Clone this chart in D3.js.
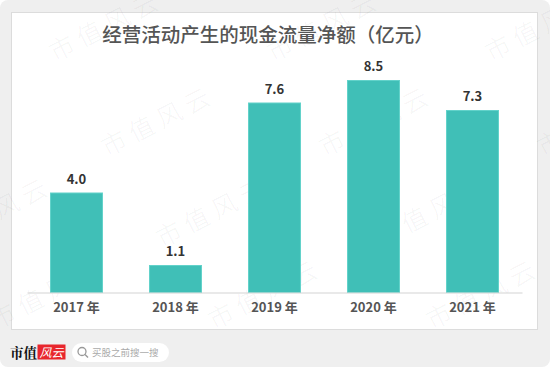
<!DOCTYPE html>
<html>
<head>
<meta charset="utf-8">
<script src="https://cdn.jsdelivr.net/npm/d3@7"></script>
<style>
  body { margin: 0; background: #fff; }
  text { font-family: "Noto Sans CJK SC", "Noto Sans", sans-serif; }
</style>
</head>
<body>
<div id="chart"></div>
<script>
// data
const years = ["2017 年", "2018 年", "2019 年", "2020 年", "2021 年"];
const cashFlow = [4.0, 1.1, 7.6, 8.5, 7.3];
const title = "经营活动产生的现金流量净额（亿元）";

const width = 550, height = 367;

const svg = d3.select("#chart").append("svg")
    .attr("width", width)
    .attr("height", height);

// outer grey card + white panel
svg.append("rect")
    .attr("width", width).attr("height", height)
    .attr("rx", 8)
    .attr("fill", "#efefef");

svg.append("rect")
    .attr("x", 11.5).attr("y", 12.5)
    .attr("width", 526).attr("height", 317)
    .attr("fill", "#fff")
    .attr("stroke", "#dcdcdc");

// watermark (drawn under the bars)
const wmRows = [[55, 62], [107, 157], [162, 248], [214, 330], [3, -33]];
const wm = svg.append("g").attr("pointer-events", "none");
wmRows.forEach(r => {
    for (let k = -1; k < 3; k++) {
        wm.append("text")
            .attr("transform", "translate(" + (r[0] + k * 218) + "," + r[1] + ") rotate(-27)")
            .attr("font-size", 25)
            .attr("font-weight", 300)
            .attr("letter-spacing", 6)
            .attr("fill", "#000")
            .attr("fill-opacity", 0.055)
            .text("市值风云");
    }
});

// title
svg.append("text")
    .attr("x", 268).attr("y", 42)
    .attr("text-anchor", "middle")
    .attr("font-size", 19.5)
    .attr("font-weight", 500)
    .attr("fill", "#555")
    .text(title);

// scales
const x = d3.scaleBand()
    .domain(years)
    .range([27, 522])
    .paddingInner(0.465)
    .paddingOuter(0.2325);

const y = d3.scaleLinear()
    .domain([0, 8.5])
    .range([292.5, 80]);

// bars
svg.selectAll(".bar")
    .data(cashFlow)
    .enter()
    .append("rect")
    .attr("class", "bar")
    .attr("x", (d, i) => x(years[i]) + 0.5)
    .attr("y", d => y(d) + 0.5)
    .attr("width", x.bandwidth() - 1)
    .attr("height", d => y(0) - y(d) - 0.5)
    .attr("fill", "#40bfb7")
    .attr("stroke", "#62d2ca")
    .attr("stroke-width", 1);

// value labels
svg.selectAll(".label")
    .data(cashFlow)
    .enter()
    .append("text")
    .attr("class", "label")
    .attr("x", (d, i) => x(years[i]) + x.bandwidth() / 2)
    .attr("y", d => y(d) - 9)
    .attr("text-anchor", "middle")
    .attr("font-size", 13)
    .attr("font-weight", "bold")
    .attr("fill", "#333")
    .text(d => d.toFixed(1));

// x axis
const xAxis = d3.axisBottom(x).tickSize(0).tickPadding(10);
const gx = svg.append("g")
    .attr("transform", "translate(0," + y(0) + ")")
    .call(xAxis);
gx.select(".domain").attr("stroke", "#d4d4d4").attr("stroke-width", 1.2);
gx.selectAll("text")
    .attr("font-size", 13)
    .attr("font-weight", "bold")
    .attr("fill", "#555")
    .style("font-family", "'Noto Sans CJK SC', sans-serif");

// bottom logo
svg.append("text")
    .attr("x", 10).attr("y", 357.5)
    .attr("font-size", 13.5)
    .attr("font-weight", "bold")
    .attr("fill", "#111")
    .style("font-family", "'Noto Serif CJK SC', 'Noto Sans CJK SC', serif")
    .text("市值");
svg.append("rect")
    .attr("x", 37.5).attr("y", 344.5)
    .attr("width", 28).attr("height", 15)
    .attr("fill", "#e8262d");
svg.append("text")
    .attr("x", 51.5).attr("y", 356.5)
    .attr("text-anchor", "middle")
    .attr("font-size", 12)
    .attr("font-style", "italic")
    .attr("fill", "#fff")
    .text("风云");

// search pill
svg.append("rect")
    .attr("x", 72).attr("y", 343)
    .attr("width", 97).attr("height", 19)
    .attr("rx", 9.5)
    .attr("fill", "#fff");
svg.append("circle")
    .attr("cx", 82).attr("cy", 351.5)
    .attr("r", 4)
    .attr("fill", "none")
    .attr("stroke", "#999")
    .attr("stroke-width", 1.3);
svg.append("line")
    .attr("x1", 85).attr("y1", 354.5)
    .attr("x2", 88).attr("y2", 357.5)
    .attr("stroke", "#999")
    .attr("stroke-width", 1.4);
svg.append("text")
    .attr("x", 92).attr("y", 356)
    .attr("font-size", 9.5)
    .attr("fill", "#aaa")
    .text("买股之前搜一搜");
</script>
</body>
</html>
